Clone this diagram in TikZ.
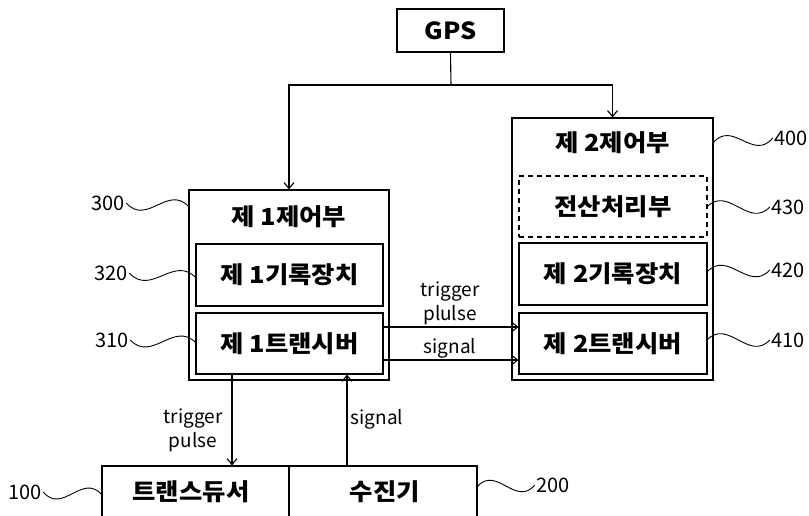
\documentclass[tikz,border=0pt]{standalone}
\usepackage{fontspec}
\setmainfont{Noto Sans CJK KR}
\newfontfamily\krfont{Noto Sans CJK KR}[FakeStretch=1.08]
\usetikzlibrary{arrows.meta,calc}
\newcommand\squig[2]{\draw[squigline] (#1) .. controls ($(#1)!0.33!(#2)+(0,-22)$) and ($(#1)!0.67!(#2)+(0,22)$) .. (#2);}
\begin{document}
\begin{tikzpicture}[x=1pt,y=-1pt,line width=1.2pt,
  box/.style={draw,inner sep=0pt,font=\krfont\bfseries\fontsize{23.5}{26}\selectfont},
  title/.style={inner sep=0pt,font=\krfont\bfseries\fontsize{23.5}{26}\selectfont},
  lbl/.style={inner sep=1pt,font=\fontsize{20}{22}\selectfont},
  sig/.style={inner sep=0pt,align=center,font=\fontsize{19}{24}\selectfont},
  arr/.style={-{Straight Barb[length=6pt,width=10pt]},line width=1.1pt},
  squigline/.style={line width=0.9pt}]
\useasboundingbox (0,0) rectangle (809,515);
% GPS
\node[box,minimum width=107pt,minimum height=43pt] (gps) at (450.5,30.5) {GPS};
% first control unit
\node[box,minimum width=200pt,minimum height=190pt] (c1) at (289,285) {};
\node[title] (c1t) at (289,217) {제 1제어부};
\node[box,minimum width=187pt,minimum height=62pt] (r1) at (289.5,275) {제 1기록장치};
\node[box,minimum width=187pt,minimum height=61pt] (t1) at (289.5,343.5) {제 1트랜시버};
% second control unit
\node[box,minimum width=201pt,minimum height=262pt] (c2) at (612.5,249) {};
\node[title] (c2t) at (612.5,143) {제 2제어부};
\node[box,dashed,dash pattern=on 5pt off 4pt,minimum width=188pt,minimum height=61pt] (cp) at (613,206.5) {전산처리부};
\node[box,minimum width=188pt,minimum height=62pt] (r2) at (613,274) {제 2기록장치};
\node[box,minimum width=188pt,minimum height=61pt] (t2) at (613,343.5) {제 2트랜시버};
% transducer / receiver
\node[box,minimum width=187pt,minimum height=54pt] (td) at (195.5,493) {};
\node[box,minimum width=188pt,minimum height=54pt] (rc) at (383,493) {};
\node[title] (tdt) at (191,492) {트랜스듀서};
\node[title] (rct) at (385,492) {수진기};
% GPS connectors
\coordinate (j) at (451,85);
\draw[line width=1.1pt] (gps.south) -- (j);
\draw[arr] (j) -| (c1.north);
\draw[arr] (j) -| (c2.north);
% transceiver links
\draw[arr] ([yshift=16.5pt]t1.east) -- ([yshift=16.5pt]t2.west);
\draw[arr] ([yshift=-16.5pt]t1.east) -- ([yshift=-16.5pt]t2.west);
\node[sig] (tpl) at (450,303) {trigger\\plulse};
\node[sig] (sgl) at (450,348) {signal};
% vertical links
\draw[arr] ([xshift=-57.5pt]t1.south) -- ([xshift=-57.5pt]t1.south |- td.north);
\draw[arr] ([xshift=57.5pt]t1.south |- rc.north) -- ([xshift=57.5pt]t1.south);
\node[sig] (tpv) at (193,430) {trigger\\pulse};
\node[sig,anchor=west] (sgv) at (350,419) {signal};
% reference numerals
\node[lbl] (n300) at (108,203) {300};
\node[lbl] (n320) at (111,273) {320};
\node[lbl] (n310) at (112,340) {310};
\node[lbl] (n100) at (25,492) {100};
\node[lbl] (n400) at (791,138) {400};
\node[lbl] (n430) at (788,207) {430};
\node[lbl] (n420) at (788,270) {420};
\node[lbl] (n410) at (788,340) {410};
\node[lbl] (n200) at (553,485) {200};
\coordinate (p300) at (189,207);
\coordinate (p320) at (196,278);
\coordinate (p310) at (196,343);
\coordinate (p100) at (102,495);
\coordinate (p400) at (713,143);
\coordinate (p430) at (707,207);
\coordinate (p420) at (707,272);
\coordinate (p410) at (707,340);
\coordinate (p200) at (477,487);
\squig{p300}{n300.east}
\squig{p320}{n320.east}
\squig{p310}{n310.east}
\squig{p100}{n100.east}
\squig{p400}{n400.west}
\squig{p430}{n430.west}
\squig{p420}{n420.west}
\squig{p410}{n410.west}
\squig{p200}{n200.west}
\end{tikzpicture}
\end{document}
